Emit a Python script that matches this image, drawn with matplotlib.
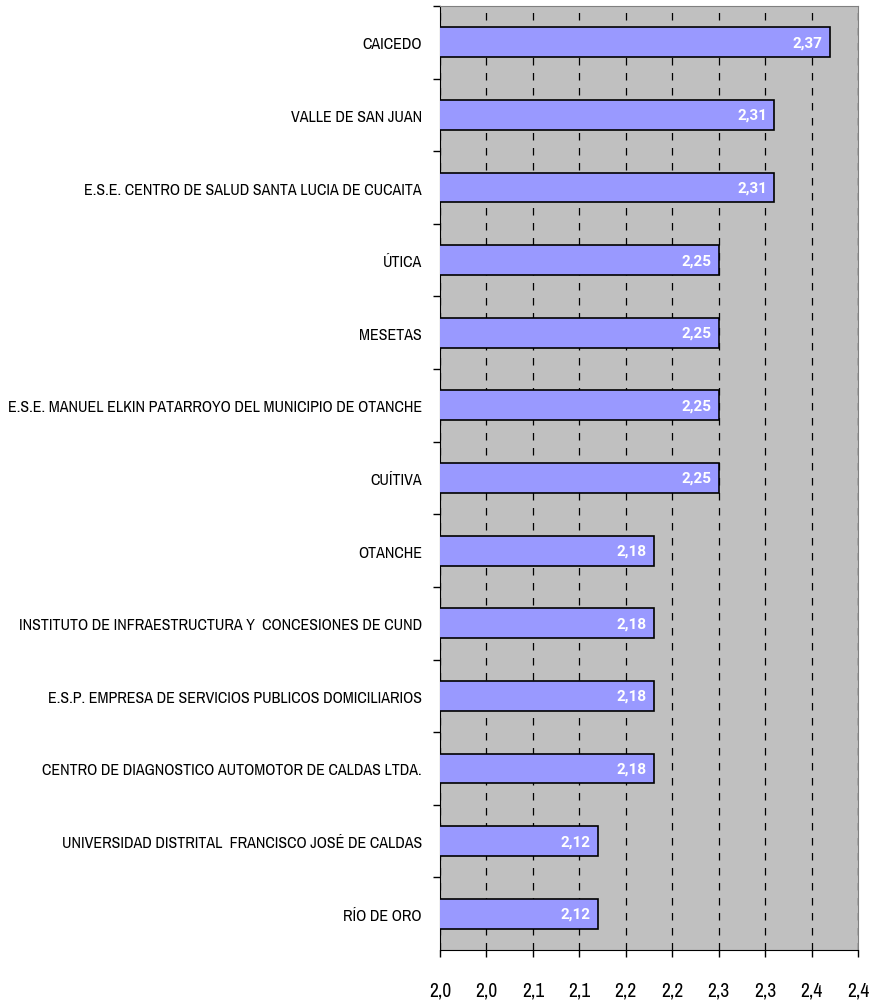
import matplotlib.pyplot as plt
from matplotlib.ticker import FixedLocator, FuncFormatter
from matplotlib import font_manager
import numpy as np
from decimal import Decimal, ROUND_HALF_UP

# buscar una fuente condensada si existe
cond = None
for f in font_manager.fontManager.ttflist:
    if 'Condensed' in f.name or 'Narrow' in f.name:
        cond = f.name
        break
stretch = 'normal'
if cond is None:
    for f in font_manager.fontManager.ttflist:
        if f.stretch in ('condensed', 'semi-condensed', 'extra-condensed', 600, 500) and 'Sans' in f.name:
            cond = f.name
            stretch = f.stretch
            break
if cond is None:
    cond = 'DejaVu Sans'
plt.rcParams['font.family'] = [cond, 'DejaVu Sans']
plt.rcParams['font.stretch'] = stretch

# fuente negrita para los valores
tiene_bold = any(f.name == cond and f.weight in ('bold', 700) for f in font_manager.fontManager.ttflist)
fam_valores = [cond] if tiene_bold else ['Roboto', 'DejaVu Sans']

categorias = ['CAICEDO', 'VALLE DE SAN JUAN',
              'E.S.E. CENTRO DE SALUD SANTA LUCIA DE CUCAITA', 'ÚTICA', 'MESETAS',
              'E.S.E. MANUEL ELKIN PATARROYO DEL MUNICIPIO DE OTANCHE', 'CUÍTIVA',
              'OTANCHE', 'INSTITUTO DE INFRAESTRUCTURA Y  CONCESIONES DE CUND',
              'E.S.P. EMPRESA DE SERVICIOS PUBLICOS DOMICILIARIOS',
              'CENTRO DE DIAGNOSTICO AUTOMOTOR DE CALDAS LTDA.',
              'UNIVERSIDAD DISTRITAL  FRANCISCO JOSÉ DE CALDAS', 'RÍO DE ORO']
valores = [2.37, 2.31, 2.31, 2.25, 2.25, 2.25, 2.25, 2.18, 2.18, 2.18, 2.18, 2.12, 2.12]
ticks_x = [1.95, 2.0, 2.05, 2.1, 2.15, 2.2, 2.25, 2.3, 2.35, 2.4]

fig = plt.figure(figsize=(8.73, 10.04), dpi=100)
ax = fig.add_axes([440/873, 1-951/1004, 418/873, 944/1004])
ax.set_facecolor('#c0c0c0')

y = np.arange(len(categorias))
ax.barh(y, valores, height=0.41, left=0, color='#9999ff', edgecolor='black', linewidth=1.2, zorder=3)
for yi, v in zip(y, valores):
    ax.text(v - 0.008, yi, f'{v:.2f}'.replace('.', ','), ha='right', va='center',
            color='white', fontsize=13 if tiene_bold else 11, fontweight='bold',
            family=fam_valores, zorder=4)

ax.set_xlim(1.95, 2.40)
ax.set_ylim(len(categorias) - 0.5, -0.5)
ax.xaxis.set_major_locator(FixedLocator(ticks_x))
ax.xaxis.set_major_formatter(FuncFormatter(
    lambda x, p: str(Decimal(str(round(x, 4))).quantize(Decimal('0.1'), ROUND_HALF_UP)).replace('.', ',')))
ax.grid(axis='x', color='black', linestyle=(0, (6, 6)), linewidth=0.9, zorder=1)

ax.set_yticks(np.arange(len(categorias)) - 0.5, minor=False)
ax.set_yticklabels([])
ax.set_yticks(y, minor=True)
lbls = ax.set_yticklabels(categorias, minor=True, fontsize=13)
ax.tick_params(axis='y', which='minor', length=0, pad=13)
ax.tick_params(axis='y', which='major', length=5, width=1)
ax.tick_params(axis='x', length=5, width=1, pad=17, labelsize=14)

# ajustar tamaño para que la etiqueta más larga quepa (~414 px)
fig.canvas.draw()
r = fig.canvas.get_renderer()
wmax = max(t.get_window_extent(r).width for t in lbls)
size = min(16, 13 * 414 / wmax)
for t in lbls:
    t.set_fontsize(size)

for s in ['top', 'right']:
    ax.spines[s].set_color('#808080')
for s in ['left', 'bottom']:
    ax.spines[s].set_color('black')

fig.savefig('out.png', dpi=100)
